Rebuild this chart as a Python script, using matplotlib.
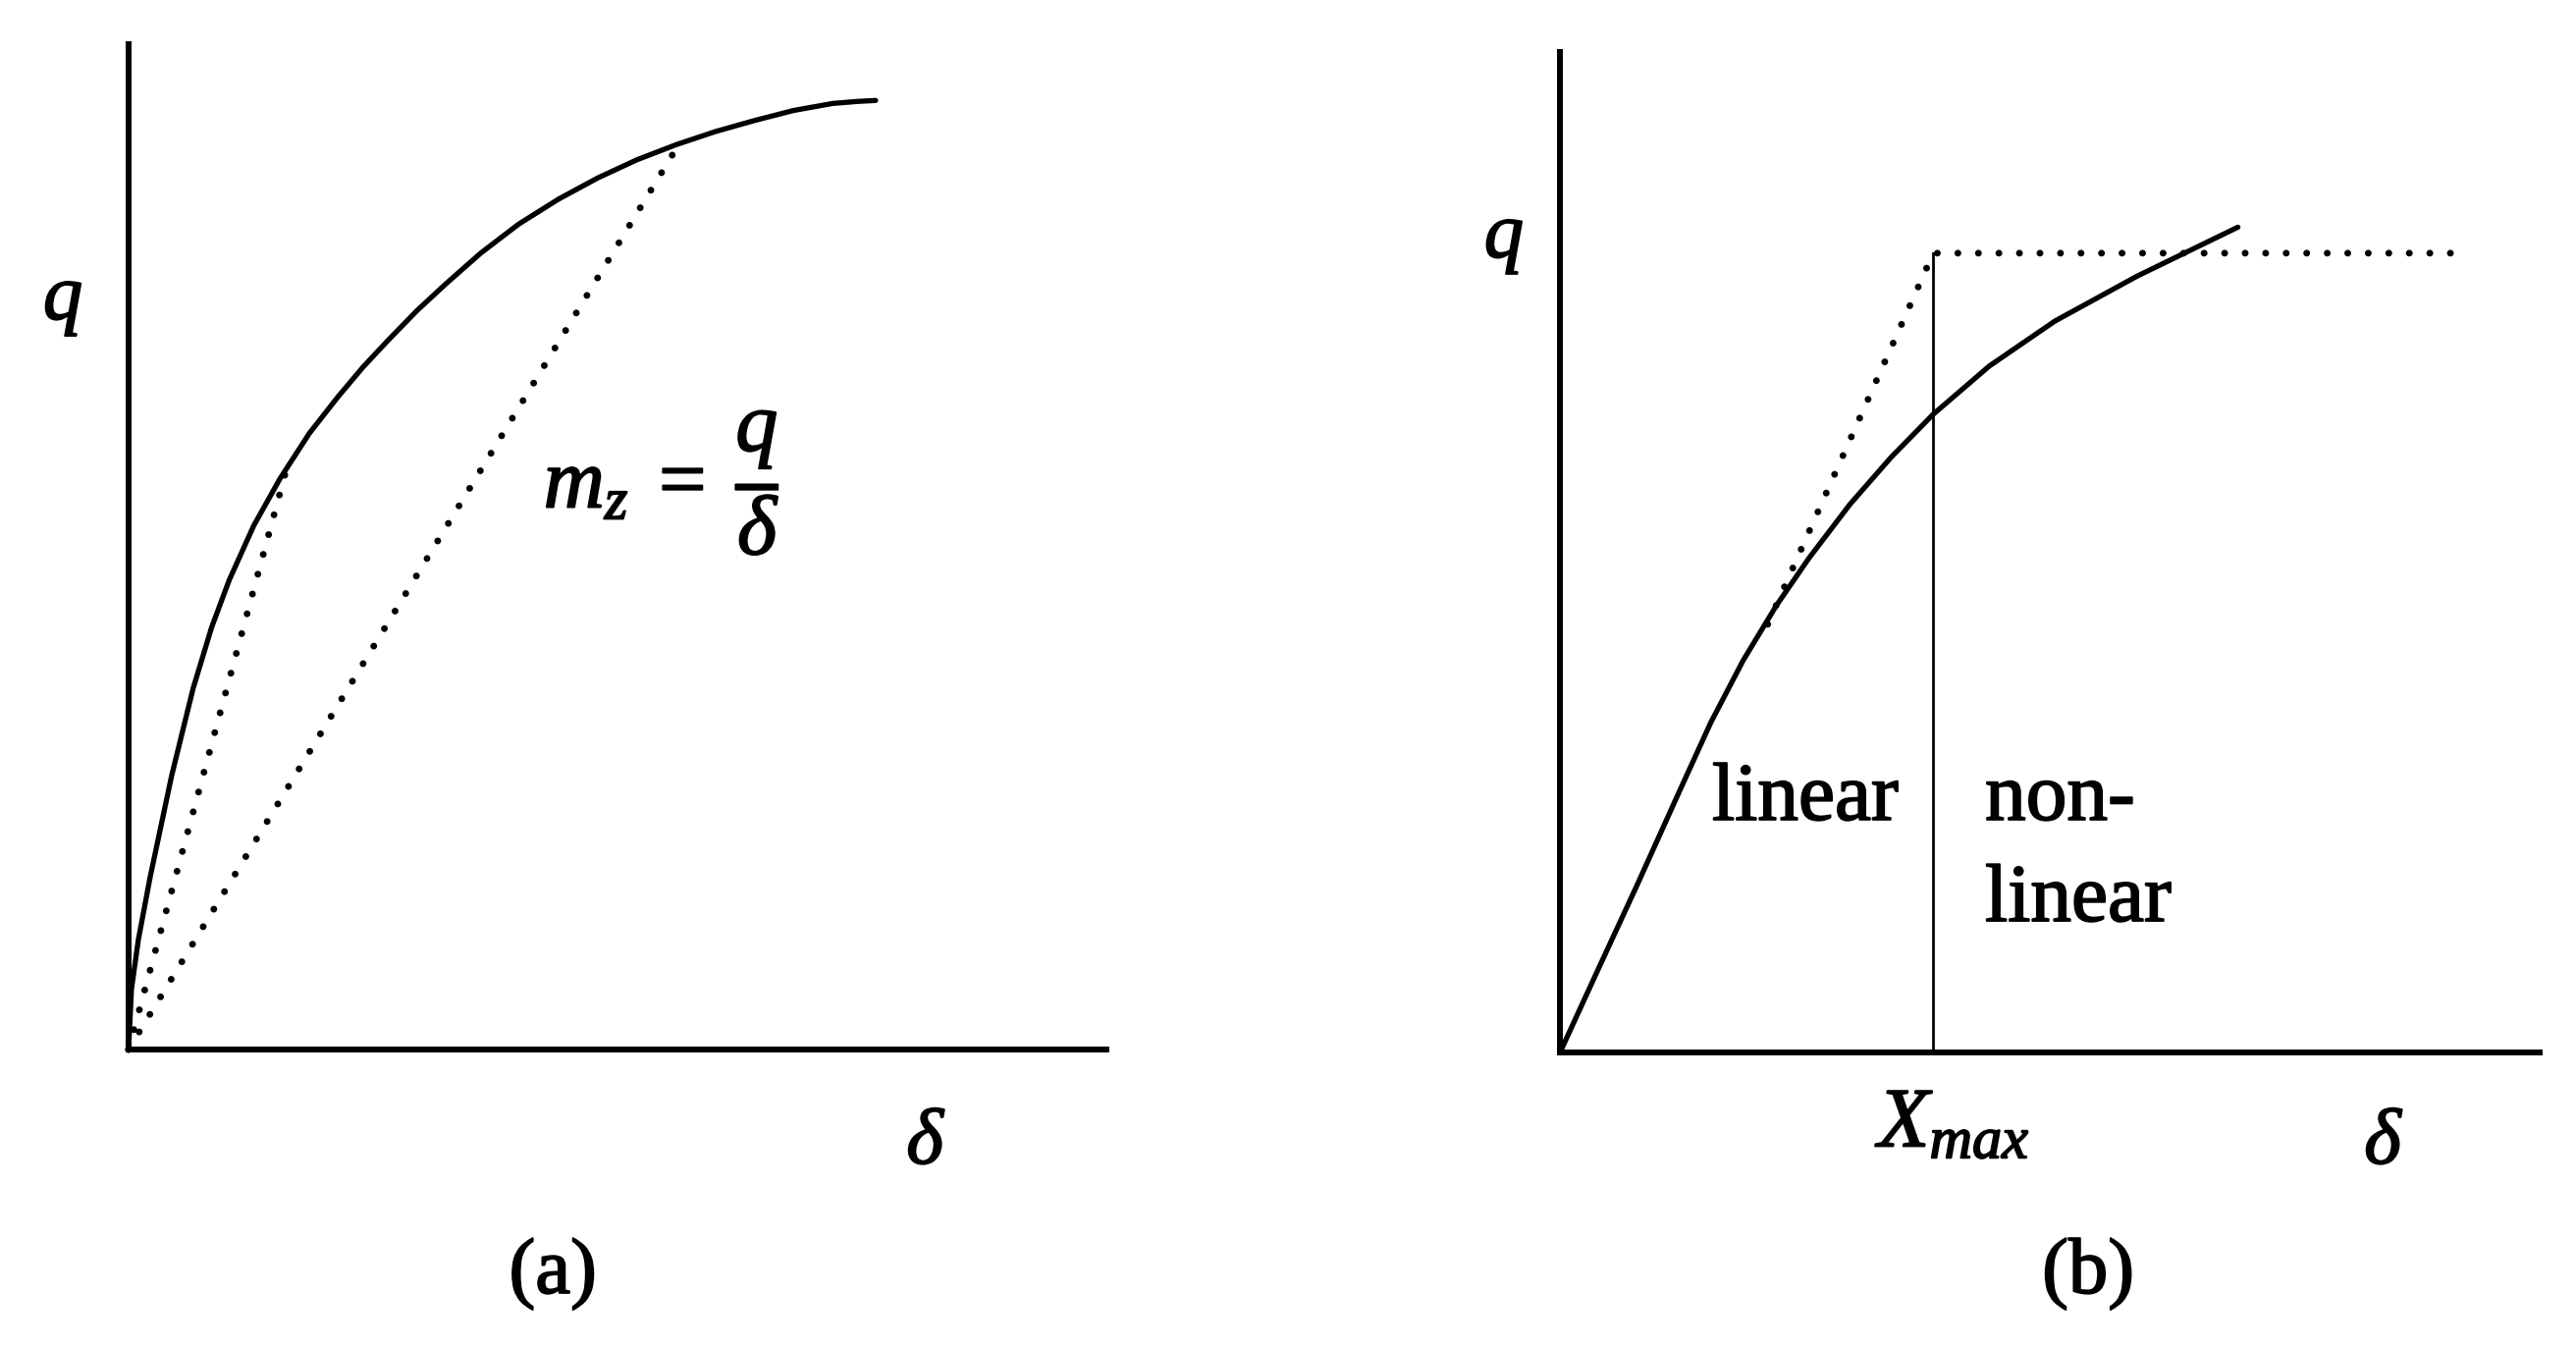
import matplotlib
matplotlib.use("Agg")
from matplotlib import pyplot as plt
from matplotlib import patheffects as pe

plt.rcParams['font.family'] = ['Liberation Serif', 'DejaVu Serif']
plt.rcParams['mathtext.fontset'] = 'custom'
plt.rcParams['mathtext.rm'] = 'Liberation Serif'
plt.rcParams['mathtext.it'] = 'Liberation Serif:italic'
plt.rcParams['mathtext.bf'] = 'Liberation Serif:bold'

# panel (a): load-deflection curve and two secant lines (axes run 0..10)
curve_a_x = [0, 0.03, 0.10, 0.22, 0.44, 0.66, 0.85, 1.03, 1.28, 1.55, 1.85, 2.14,
             2.40, 2.66, 2.95, 3.25, 3.60, 3.99, 4.40, 4.80, 5.20, 5.60, 6.00,
             6.40, 6.80, 7.20, 7.45, 7.64]
curve_a_y = [0, 0.60, 1.09, 1.71, 2.72, 3.59, 4.20, 4.67, 5.21, 5.68, 6.13, 6.49,
             6.79, 7.06, 7.35, 7.62, 7.92, 8.21, 8.46, 8.67, 8.85, 9.00, 9.13,
             9.24, 9.34, 9.41, 9.43, 9.44]
secant_short_x = [0.0, 1.60]
secant_short_y = [0.0, 5.72]
secant_long_x = [0.0, 5.65]
secant_long_y = [0.0, 9.04]

# panel (b): curve, bilinear idealisation and X_max
curve_b_x = [0, 0.37, 0.79, 1.20, 1.54, 1.87, 2.21, 2.54, 2.96, 3.38, 3.81, 4.38,
             5.05, 5.89, 6.92]
curve_b_y = [0, 0.79, 1.68, 2.57, 3.30, 3.92, 4.47, 4.94, 5.48, 5.95, 6.38, 6.86,
             7.31, 7.76, 8.25]
bilinear_x = [2.12, 3.81, 9.25]
bilinear_y = [4.28, 7.99, 7.99]
x_max = 3.81

dots = dict(color='black', lw=5, linestyle=(0, (0.01, 3.0)),
            dash_capstyle='round', clip_on=False)
solid = dict(color='black', lw=3.8, solid_capstyle='round',
             solid_joinstyle='round', clip_on=False)

fig = plt.figure(figsize=(26.24, 13.71), dpi=100)
ax_a = fig.add_axes([0.0499, 0.2203, 0.3796, 0.7469])
ax_b = fig.add_axes([0.6056, 0.2181, 0.3803, 0.7432])

for ax in (ax_a, ax_b):
    ax.set_xlim(0, 10)
    ax.set_ylim(0, 10)
    ax.set_xticks([])
    ax.set_yticks([])
    ax.spines['top'].set_visible(False)
    ax.spines['right'].set_visible(False)
    for s in ('left', 'bottom'):
        ax.spines[s].set_linewidth(4.3)
        ax.spines[s].set_capstyle('projecting')

ax_a.plot(curve_a_x, curve_a_y, **solid)
ax_a.plot(secant_short_x, secant_short_y, **dots)
ax_a.plot(secant_long_x, secant_long_y, **dots)

ax_b.plot(curve_b_x, curve_b_y, **solid)
ax_b.plot(bilinear_x, bilinear_y, **dots)
ax_b.plot([x_max, x_max], [0, bilinear_y[1]], color='black', lw=2, clip_on=False)

# labels, slightly thickened to look like the scanned Times type
bold = [pe.withStroke(linewidth=1.3, foreground='black')]
fs = 58
txt = dict(va='baseline', path_effects=bold)
fig.text(0.0244, 0.7630, 'q', style='italic', fontsize=fs, ha='center', **txt)
fig.text(0.5838, 0.8090, 'q', style='italic', fontsize=fs, ha='center', **txt)
fig.text(0.3590, 0.1357, 'δ', style='italic', fontsize=fs, ha='center', **txt)
fig.text(0.9249, 0.1357, 'δ', style='italic', fontsize=fs, ha='center', **txt)
fig.text(0.2146, 0.0394, '(a)', fontsize=fs, ha='center', **txt)
fig.text(0.8106, 0.0394, '(b)', fontsize=fs, ha='center', **txt)

fig.text(0.2110, 0.6411, r'$m_z\;=\;\dfrac{q}{\delta}$', fontsize=62,
         ha='left', va='center', path_effects=bold)

fig.text(0.7008, 0.3910, 'linear', fontsize=60, ha='center', **txt)
fig.text(0.7706, 0.3910, 'non-', fontsize=60, ha='left', **txt)
fig.text(0.7706, 0.3158, 'linear', fontsize=60, ha='left', **txt)
fig.text(0.7290, 0.1481, r'$X_{max}$', fontsize=62, ha='left', **txt)

fig.savefig('out.png', dpi=100)
